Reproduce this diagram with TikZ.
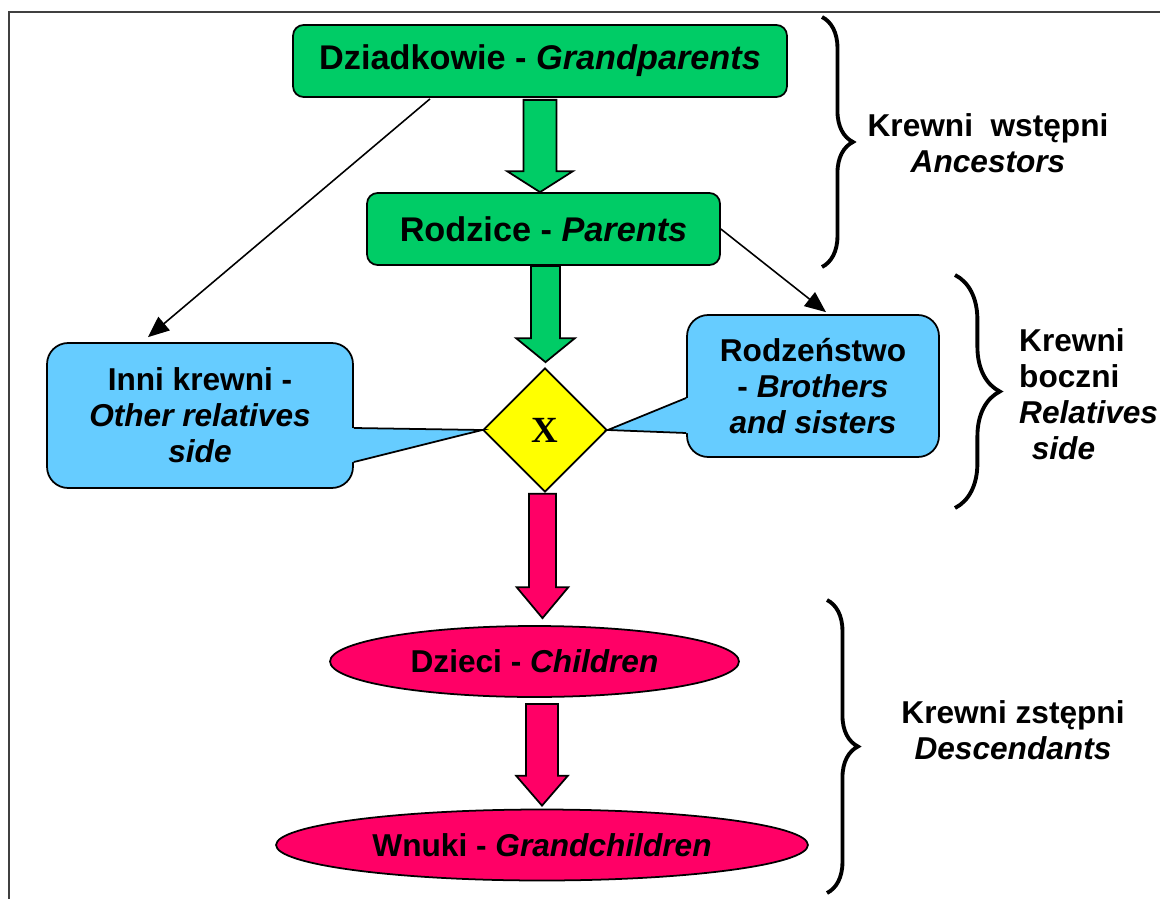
\documentclass[tikz,border=0pt]{standalone}
\usepackage{fontspec}
\setmainfont{Liberation Sans}
\newfontfamily\timesfont{Liberation Serif}
\usetikzlibrary{shapes.geometric,decorations.pathreplacing,arrows.meta,calc}
\definecolor{grn}{RGB}{0,204,102}
\definecolor{blu}{RGB}{102,204,255}
\definecolor{yel}{RGB}{255,255,0}
\definecolor{pnk}{RGB}{255,0,102}
\newcommand{\blockarrow}[6]{%
  \draw[fill=#3, line width=1pt, line join=miter] let \p1=#1, \p2=#2 in
    ({\x1-#4},\y1) -- ({\x1-#4},{\y2+#6}) -- ({\x1-#5},{\y2+#6}) -- (\x1,\y2)
    -- ({\x1+#5},{\y2+#6}) -- ({\x1+#4},{\y2+#6}) -- ({\x1+#4},\y1) -- cycle;}

\begin{document}
\begin{tikzpicture}[x=0.02cm, y=-0.02cm,
    box/.style={draw, line width=1pt, fill=grn, rounded corners=6pt, inner sep=0pt,
      font=\fontsize{19.5}{22}\selectfont\bfseries},
    bubble/.style={draw, line width=1pt, fill=blu, rounded corners=12pt, inner sep=0pt,
      align=center, font=\fontsize{18}{20.5}\selectfont\bfseries},
    oval/.style={ellipse, draw, line width=1pt, fill=pnk, inner sep=0pt,
      font=\fontsize{18}{20.5}\selectfont\bfseries},
    link/.style={line width=0.9pt, -{Triangle[length=12pt,width=10pt]}},
    brc/.style={decorate, decoration={brace, amplitude=#1}, line width=2.2pt},
    grp/.style={align=center, font=\fontsize{18}{20.5}\selectfont\bfseries}]
    \useasboundingbox (0,0) rectangle (1160,899);
    \draw [line width=1.2pt, black!75] (9,899) -- (9,12) -- (1160,12);

    \node[box, minimum width=9.88cm, minimum height=1.44cm] (gp) at (540,61) {Dziadkowie - \textit{Grandparents}};
    \node[box, minimum width=7.06cm, minimum height=1.44cm] (par) at (543.5,229) {Rodzice - \textit{Parents}};
    \node[diamond, draw, line width=1pt, fill=yel, minimum width=2.48cm, minimum height=2.48cm, inner sep=0pt,
      font=\timesfont\fontsize{21}{21}\selectfont\bfseries] (dia) at (545,430) {X};

    \node[bubble, minimum width=6.12cm, minimum height=2.9cm] (oth) at (200,415.5) {Inni krewni -\\ \textit{Other relatives}\\ \textit{side}};
    \fill[blu] ($(oth.east)+(0,12.5)$) -- (dia.west) -- ($(oth.east)+(0,46.5)$) -- ($(oth.east)+(-7,46.5)$) -- ($(oth.east)+(-7,12.5)$) -- cycle;
    \draw[line width=1pt] ($(oth.east)+(0,12.5)$) -- (dia.west) -- ($(oth.east)+(0,46.5)$);

    \node[bubble, minimum width=5.04cm, minimum height=2.84cm] (sib) at (813,386) {Rodzeństwo\\ - \textit{Brothers}\\ \textit{and sisters}};
    \fill[blu] ($(sib.west)+(0,12)$) -- (dia.east) -- ($(sib.west)+(0,47)$) -- ($(sib.west)+(7,47)$) -- ($(sib.west)+(7,12)$) -- cycle;
    \draw[line width=1pt] ($(sib.west)+(0,12)$) -- (dia.east) -- ($(sib.west)+(0,47)$);

    \node[oval, minimum width=8.18cm, minimum height=1.42cm] (ch) at (534.5,661.5) {Dzieci - \textit{Children}};
    \node[oval, minimum width=10.64cm, minimum height=1.42cm] (gch) at (542,845) {Wnuki - \textit{Grandchildren}};

    \blockarrow{($(gp.south)+(0,2)$)}{(par.north)}{grn}{9.35pt}{18.7pt}{11.9pt}
    \blockarrow{($(par.south)+(2,0)$)}{($(dia.north)+(0,-5)$)}{grn}{8.2pt}{16.7pt}{13.6pt}
    \blockarrow{($(dia.south)+(-2.5,1)$)}{($(ch.north)+(0,-7)$)}{pnk}{7.65pt}{14.7pt}{17.6pt}
    \blockarrow{($(ch.south)+(7.5,6)$)}{($(gch.north)+(0,-3)$)}{pnk}{9.1pt}{14.7pt}{17pt}

    \draw[link] ($(gp.south)+(-110,1)$) -- ($(oth.north)+(-52,-5)$);
    \draw[link] (par.east) -- ($(sib.north)+(13,-2)$);

    \draw[brc=17.6pt] (822,17) -- (822,267);
    \draw[brc=25.5pt] (955,275) -- (955,508);
    \draw[brc=17.6pt] (827,600) -- (827,893);
    \node[grp] (anc) at (988,143) {Krewni~~wstępni\\ \textit{Ancestors}};
    \node[grp, align=left, anchor=west] (lat) at (1013,394) {Krewni\\ boczni\\ \textit{Relatives}\\ \hspace{0.4em}\textit{side}};
    \node[grp] (desc) at (1013,730) {Krewni zstępni\\ \textit{Descendants}};
\end{tikzpicture}
\end{document}
